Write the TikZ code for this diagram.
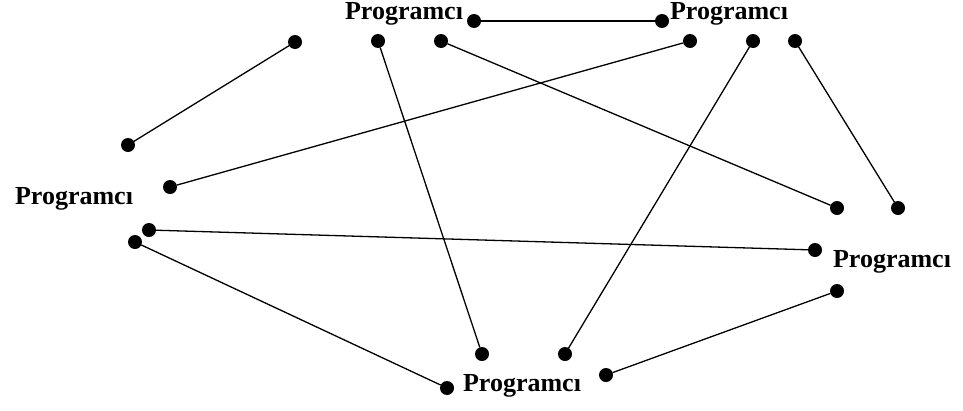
\documentclass[tikz,border=0pt]{standalone}
\usepackage{fontspec}
\setmainfont{Liberation Serif}

\begin{document}
\begin{tikzpicture}[x=1pt, y=-1pt,
    dot/.style = {circle, fill, minimum size=#1,
                inner sep=0pt, outer sep=0pt},
    dot/.default = 14pt,  % size of the circle diameter
    prog/.style = {font=\bfseries\fontsize{26}{29}\selectfont, inner sep=0pt}
                    ]
        \useasboundingbox (0,0) rectangle (963,410);
        % the five labels
        \foreach \x/\y/\v in {404/14/pa, 729/14/pb, 74/199/pc, 892/262/pd, 522/386/pe}
            \node[prog] at (\x,\y) (\v) {Programcı};
        % end points of the links
        \foreach \x/\y/\v in {295/42/a, 128/145/b, 378/41/c, 441/41/d, 474/21/e,
                              662/21/f, 690/41/g, 753/41/h, 795/41/i, 170/187/j,
                              149/230/k, 135/242/l, 837/208/m, 898/208/n, 815/250/o,
                              837/291/p, 482/354/q, 565/354/r, 447/388/s, 606/375/t}
            \node[dot] at (\x,\y) (\v) {};
        \draw [line width=1.3pt] (a) -- (b);
        \draw [line width=1.3pt] (e) -- (f);
        \draw [line width=1.3pt] (c) -- (q);
        \draw [line width=1.3pt] (d) -- (m);
        \draw [line width=1.3pt] (g) -- (j);
        \draw [line width=1.3pt] (h) -- (r);
        \draw [line width=1.3pt] (i) -- (n);
        \draw [line width=1.3pt] (k) -- (o);
        \draw [line width=1.3pt] (l) -- (s);
        \draw [line width=1.3pt] (p) -- (t);
    \end{tikzpicture}
\end{document}
